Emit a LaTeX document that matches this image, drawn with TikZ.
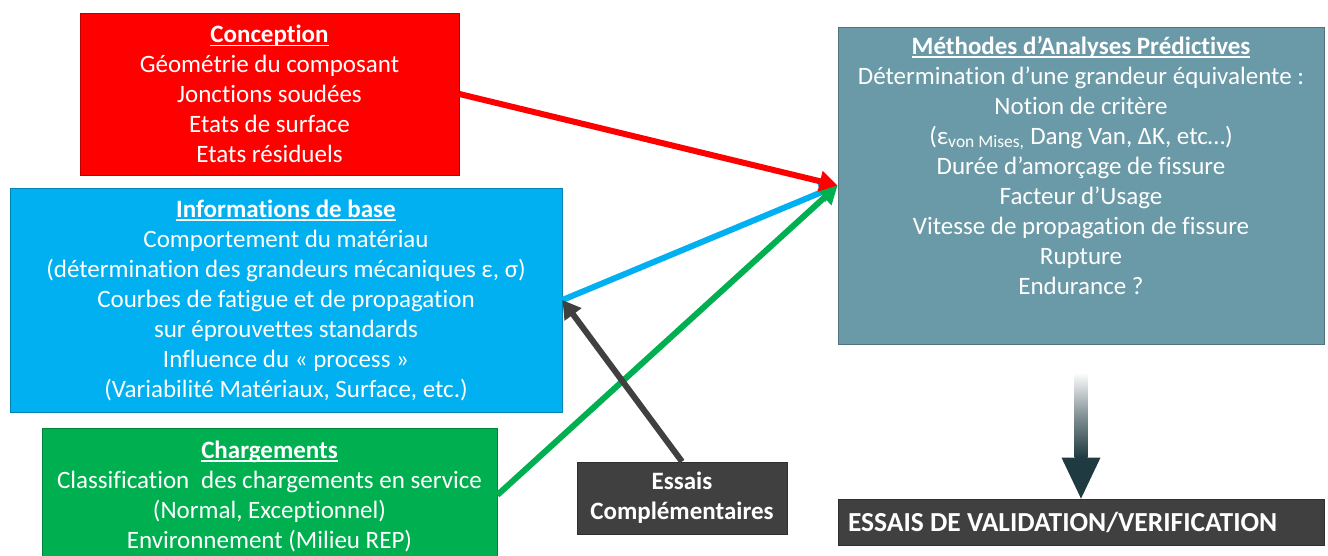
\documentclass[tikz,border=0pt]{standalone}
\usepackage{fontspec}
\setmainfont{Carlito}[Ligatures=NoCommon]
\usetikzlibrary{arrows.meta,calc}
\definecolor{cred}{HTML}{FF0000}
\definecolor{cblue}{HTML}{00B0F0}
\definecolor{cgreen}{HTML}{00B050}
\definecolor{cteal}{HTML}{6A9AA7}
\definecolor{cdark}{HTML}{404040}
\definecolor{carrow}{HTML}{1F3A40}
\newcommand\ulinetxt[1]{\setbox0\hbox{#1}\leavevmode\rlap{\rule[-3.5pt]{\wd0}{1.4pt}}\box0}
\begin{document}
\begin{tikzpicture}[x=1pt,y=-1pt,
  box/.style={rectangle, inner sep=0pt, text=white, align=center,
    draw=#1!75!black, line width=0.8pt, fill=#1,
    font=\fontsize{25}{30}\selectfont},
  conn/.style={line width=6pt, -{Triangle[length=18pt,width=20pt]}, draw=#1},
]
\useasboundingbox (0,0) rectangle (1328,555);

% boxes
\node[box=cred, minimum width=379pt, minimum height=162pt] (conc) at (269.5,94)
  {\ulinetxt{\textbf{Conception}}\\Géométrie du composant\\Jonctions soudées\\Etats de surface\\Etats résiduels};

\node[box=cblue, minimum width=552pt, minimum height=224pt] (info) at (286,300)
  {\ulinetxt{\textbf{Informations de base}}\\Comportement du matériau\\(détermination des grandeurs mécaniques ε, σ)\\Courbes de fatigue et de propagation\\sur éprouvettes standards\\Influence du «~process~»\\(Variabilité Matériaux, Surface, etc.)};

\node[box=cgreen] (charg) at (269.5,495)
  {\parbox[c][134pt][t]{455pt}{\centering\fontsize{25}{30}\selectfont
   \rule{0pt}{30pt}\ulinetxt{\textbf{Chargements}}\\Classification\hspace{0.25em} des chargements en service\\(Normal, Exceptionnel)\\Environnement (Milieu REP)}};

\node[box=cdark, minimum width=210pt, minimum height=72pt, font=\fontsize{25}{30}\selectfont\bfseries] (essais) at (682,498)
  {Essais\\Complémentaires};

\node[box=cteal] (meth) at (1081,185.5)
  {\parbox[c][317pt][t]{486pt}{\centering\fontsize{25}{30}\selectfont
   \rule{0pt}{27pt}\ulinetxt{\textbf{Méthodes d’Analyses Prédictives}}\\
   Détermination d’une grandeur équivalente :\\
   Notion de critère\\
   (ε\textsubscript{von Mises,} Dang Van, ΔK, etc…)\\
   Durée d’amorçage de fissure\\
   Facteur d’Usage\\
   Vitesse de propagation de fissure\\
   Rupture\\
   Endurance ?}};

\node[box=cdark, minimum width=486pt, minimum height=46pt, align=left,
  font=\fontsize{27.5}{33}\selectfont\bfseries] (valid) at (1081,522)
  {\makebox[466pt][l]{ESSAIS DE VALIDATION/VERIFICATION}};

% connectors
\draw[conn=cblue] (info.east) -- (meth.west);
\draw[conn=cgreen] (charg.east) -- (meth.west);
\draw[conn=cred] (conc.east) -- (meth.west);
\draw[conn=cdark] (essais.north) -- (info.east);

% gradient arrow
\coordinate (gs) at ($(meth.south)+(0,28)$);
\coordinate (hb) at ($(valid.north)+(0,-41)$);
\shade[top color=white, bottom color=carrow, middle color=carrow!55]
  ($(gs)+(-6.5,0)$) rectangle ($(hb)+(6.5,0)$);
\fill[carrow] ($(hb)+(-19.5,0)$) -- ($(hb)+(19.5,0)$) -- (valid.north) -- cycle;
\end{tikzpicture}
\end{document}
